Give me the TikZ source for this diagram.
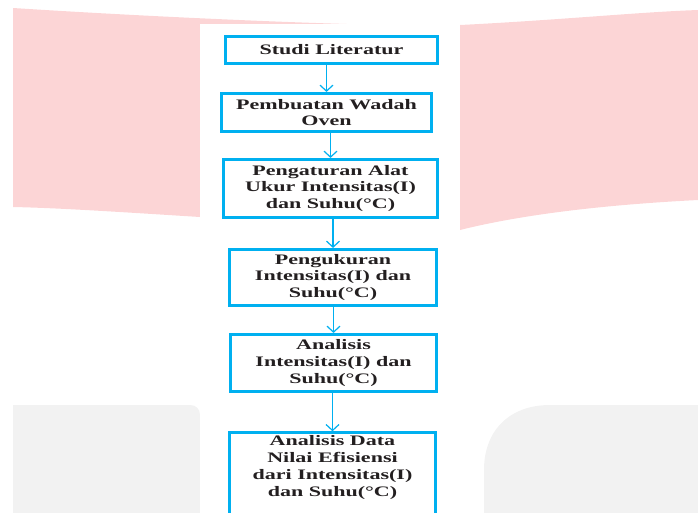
\documentclass[tikz,border=0pt]{standalone}
\usepackage{fontspec}
\setmainfont{Liberation Serif}[FakeStretch=1.52]
\usetikzlibrary{arrows.meta}
\definecolor{flowblue}{HTML}{00B0F0}
\definecolor{markpink}{HTML}{FCD5D6}
\definecolor{markgray}{HTML}{F2F2F2}
\definecolor{inkdark}{HTML}{231F20}

\begin{document}
\begin{tikzpicture}[x=1pt, y=-1pt,
    stepbox/.style={draw=flowblue, line width=2.6pt, fill=white, align=center, text=inkdark,
        font=\fontsize{14.5pt}{16.8pt}\selectfont\bfseries, inner sep=0pt},
    flow/.style={draw=flowblue, line width=1.4pt,
        -{Straight Barb[length=6pt, width=13pt, line width=1.2pt]}}]
    % Frame
    \useasboundingbox (0,0) rectangle (698,512);
    \clip (0,0) rectangle (698,512);

    % Watermark
    \fill[markpink] (13,8) .. controls (200,20) and (420,28) .. (460,25)
        .. controls (560,20) and (640,12) .. (698,10) -- (698,200)
        .. controls (600,205) and (520,215) .. (460,230) -- (200,217)
        .. controls (120,212) and (60,208) .. (13,207) -- cycle;
    \fill[markgray] (13,520) -- (13,405) -- (190,405)
        .. controls (196,405) and (200,409) .. (200,415) -- (200,520) -- cycle;
    \fill[markgray] (484,520) -- (484,470) .. controls (484,430) and (510,405) .. (550,405)
        -- (698,405) -- (698,520) -- cycle;
    \fill[white] (200,24) rectangle (460,520);

    % Steps
    \node[stepbox, minimum width=212pt, minimum height=27.5pt] (lit) at (331.5,50) {Studi Literatur};
    \node[stepbox, minimum width=210pt, minimum height=38.5pt] (wadah) at (326.5,112.5) {Pembuatan Wadah\\Oven};
    \node[stepbox, minimum width=214pt, minimum height=58.5pt] (atur) at (330.5,188.5) {Pengaturan Alat\\Ukur Intensitas(I)\\dan Suhu(°C)};
    \node[stepbox, minimum width=207pt, minimum height=56.5pt] (ukur) at (333,277.5) {Pengukuran\\Intensitas(I) dan\\Suhu(°C)};
    \node[stepbox, minimum width=206pt, minimum height=57.5pt] (analisis) at (333.5,363) {Analisis\\Intensitas(I) dan\\Suhu(°C)};
    \node[stepbox, minimum width=206pt, anchor=north, inner ysep=3pt, text depth=34pt] (efisiensi) at (332.5,431.3) {Analisis Data\\Nilai Efisiensi\\dari Intensitas(I)\\dan Suhu(°C)};

    % Arrows
    \draw[flow] (lit.south -| wadah.north) -- (wadah.north);
    \draw[flow] (wadah.south -| atur.north) -- (atur.north);
    \draw[flow] (atur.south -| ukur.north) -- (ukur.north);
    \draw[flow] (ukur.south -| analisis.north) -- (analisis.north);
    \draw[flow] (analisis.south -| efisiensi.north) -- (efisiensi.north);
\end{tikzpicture}
\end{document}
